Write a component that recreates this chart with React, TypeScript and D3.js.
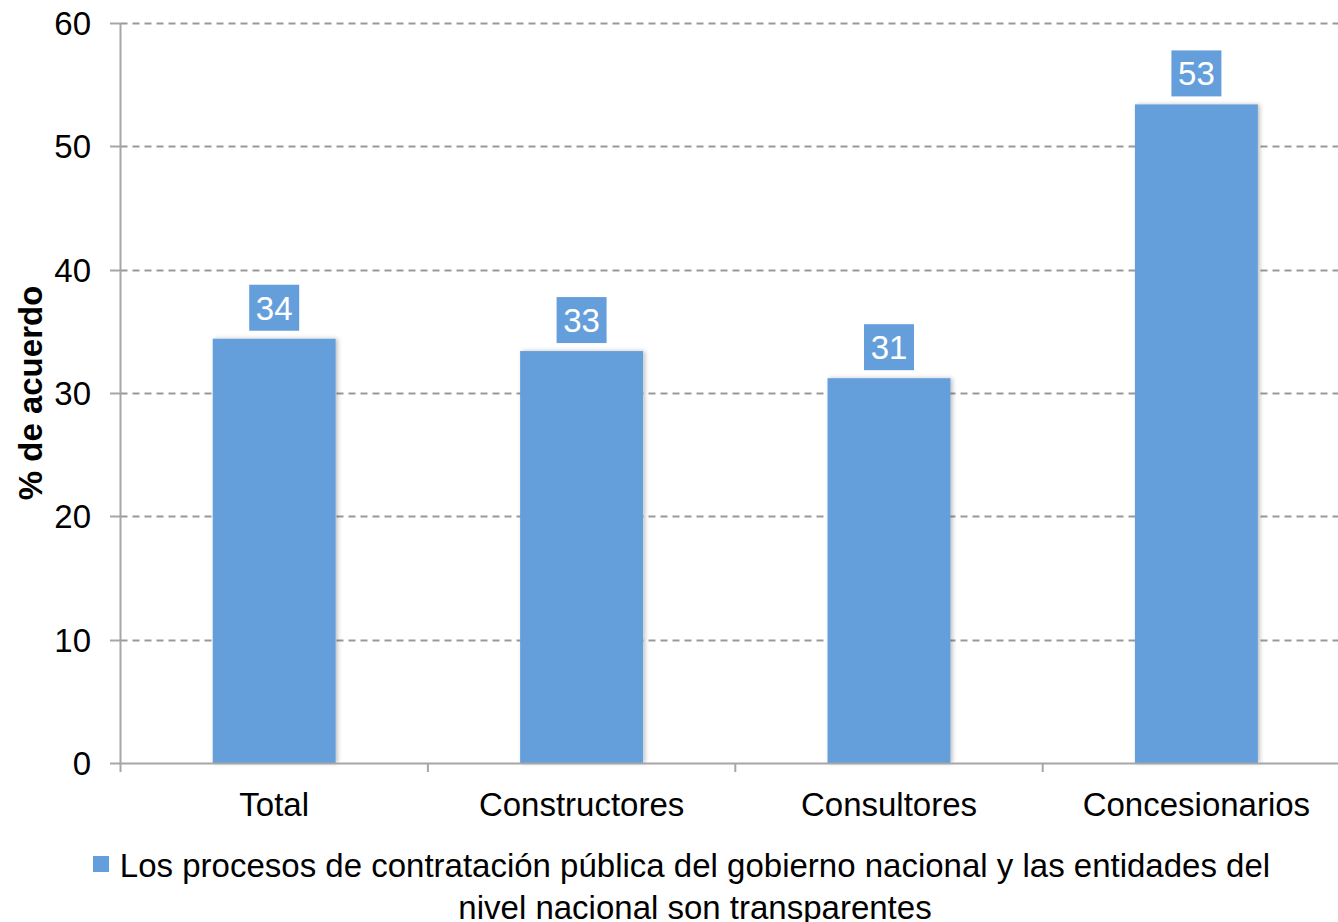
import React from "react";
import * as d3 from "d3";

const categories = ["Total", "Constructores", "Consultores", "Concesionarios"];
const values = [34.4, 33.4, 31.2, 53.4];
const labels = ["34", "33", "31", "53"];
const yTicks = [0, 10, 20, 30, 40, 50, 60];
const legendLines = [
  "Los procesos de contratación pública del gobierno nacional y las entidades del",
  "nivel nacional son transparentes",
];
const yTitle = "% de acuerdo";

const W = 1338;
const H = 922;
const BLUE = "#659fdb";
const FONT = "'Liberation Sans', Arial, sans-serif";
const FS = 33;

export default function App() {
  const left = 120.5;
  const bandW = 307.4;
  const x = d3
    .scaleBand<string>()
    .domain(categories)
    .range([left, left + bandW * categories.length])
    .paddingInner(0.6)
    .paddingOuter(0.3);
  const xb = d3.scaleBand<string>().domain(categories).range([left, left + bandW * categories.length]);
  const y = d3.scaleLinear().domain([0, 60]).range([763, 23]);
  const bw = x.bandwidth();

  return (
    <div style={{ position: "fixed", left: 0, top: 0 }}>
      <svg width={W} height={H} style={{ display: "block", fontFamily: FONT }}>
        <defs>
          <filter id="sh" x="-10%" y="-10%" width="130%" height="120%">
            <feDropShadow dx="2" dy="0" stdDeviation="2" floodColor="#000" floodOpacity="0.25" />
          </filter>
        </defs>
        <rect width={W} height={H} fill="#fff" />
        {yTicks.map((t) => (
          <g key={t}>
            {t > 0 && (
              <line
                x1={left}
                x2={W}
                y1={Math.round(y(t)) + 0.5}
                y2={Math.round(y(t)) + 0.5}
                stroke="#999"
                strokeWidth={2}
                strokeDasharray="7,5"
              />
            )}
            <line x1={110} x2={left} y1={Math.round(y(t)) + 0.5} y2={Math.round(y(t)) + 0.5} stroke="#a6a6a6" strokeWidth={2} />
            <text x={91} y={y(t)} dy="0.36em" textAnchor="end" fontSize={FS} fill="#000">
              {t}
            </text>
          </g>
        ))}
        {categories.map((c, i) => (
          <g key={c}>
            <rect
              x={x(c)}
              y={y(values[i])}
              width={bw}
              height={y(0) - y(values[i])}
              fill={BLUE}
              filter="url(#sh)"
            />
            <rect x={(x(c) as number) + bw / 2 - 25} y={y(values[i]) - 54} width={50} height={46} fill={BLUE} />
            <text
              x={(x(c) as number) + bw / 2}
              y={y(values[i]) - 31}
              dy="0.36em"
              textAnchor="middle"
              fontSize={FS}
              fill="#fff"
            >
              {labels[i]}
            </text>
            <text x={(xb(c) as number) + xb.bandwidth() / 2} y={816} textAnchor="middle" fontSize={FS} fill="#000">
              {c}
            </text>
          </g>
        ))}
        <line x1={left} x2={left} y1={23} y2={764} stroke="#a6a6a6" strokeWidth={2} />
        <line x1={left - 1} x2={W} y1={763.5} y2={763.5} stroke="#a6a6a6" strokeWidth={2} />
        {d3.range(categories.length + 1).map((i) => (
          <line
            key={i}
            x1={left + i * bandW}
            x2={left + i * bandW}
            y1={763}
            y2={772}
            stroke="#a6a6a6"
            strokeWidth={2}
          />
        ))}
        <text
          transform={`translate(42,393) rotate(-90)`}
          textAnchor="middle"
          fontSize={33}
          fontWeight="bold"
          fill="#000"
        >
          {yTitle}
        </text>
        <rect x={93} y={856} width={16} height={16} fill={BLUE} />
        {legendLines.map((l, i) => (
          <text key={i} x={695} y={877 + i * 42} textAnchor="middle" fontSize={FS} fill="#000">
            {l}
          </text>
        ))}
      </svg>
    </div>
  );
}
